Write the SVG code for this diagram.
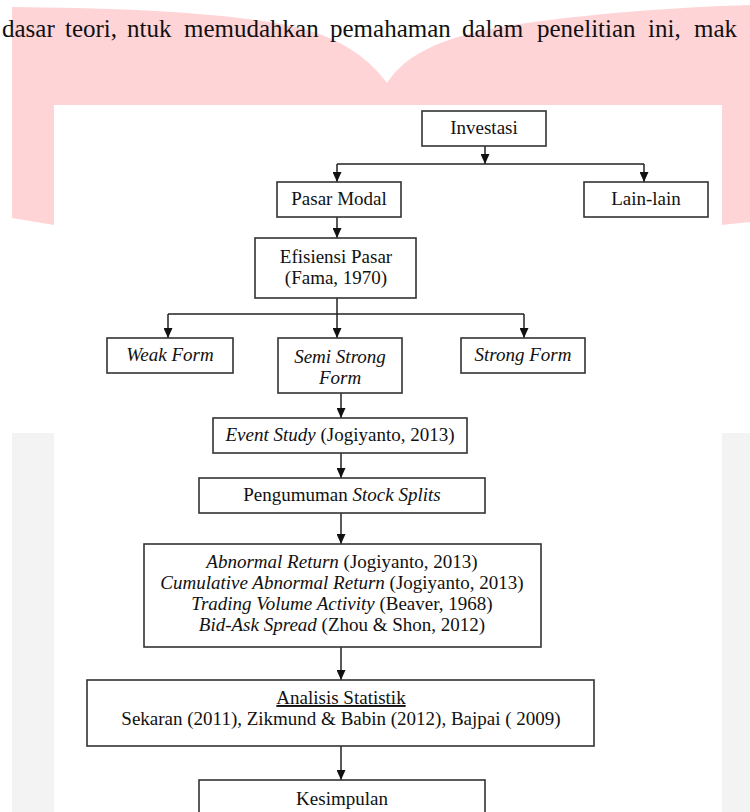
<svg xmlns="http://www.w3.org/2000/svg" width="750" height="812" viewBox="0 0 750 812">
  <style>
    text { font-family: "Liberation Serif", "Times New Roman", serif; fill: #111; }
    .t { font-size: 19px; text-anchor: middle; }
    .i { font-style: italic; }
    .box { fill: #fff; stroke: #333; stroke-width: 1.6; }
    .con { fill: none; stroke: #222; stroke-width: 1.5; }
    .top { font-size: 25px; }
  </style>
  <defs>
    <marker id="ah" viewBox="0 0 10 9" refX="10" refY="4.5" markerWidth="10" markerHeight="9" orient="auto" markerUnits="userSpaceOnUse">
      <path d="M0,0 L10,4.5 L0,9 z" fill="#111"/>
    </marker>
  </defs>

  <!-- background watermark -->
  <rect x="0" y="0" width="750" height="812" fill="#fff"/>
  <path d="M12,7 C120,8 230,12 300,28 C345,40 370,60 387,83 C405,55 440,38 500,27 C580,14 680,7 750,5 L750,222 L721,225 L54,225 L12,218 Z" fill="#ffd4d7"/>
  <rect x="12" y="433" width="42" height="379" fill="#f3f3f3"/>
  <rect x="722" y="433" width="28" height="379" fill="#f3f3f3"/>

  <text class="top" y="37"><tspan x="2">dasar</tspan><tspan x="65">teori,</tspan><tspan x="127">ntuk</tspan><tspan x="184">memudahkan</tspan><tspan x="330">pemahaman</tspan><tspan x="462">dalam</tspan><tspan x="537">penelitian</tspan><tspan x="648">ini,</tspan><tspan x="694">mak</tspan></text>

  <!-- white panel -->
  <rect x="54" y="105" width="668" height="707" fill="#fff"/>

  <g id="connectors">
    <line class="con" x1="485" y1="146" x2="485" y2="164" marker-end="url(#ah)"/>
    <line class="con" x1="337" y1="164" x2="644" y2="164"/>
    <line class="con" x1="337" y1="164" x2="337" y2="182" marker-end="url(#ah)"/>
    <line class="con" x1="644" y1="164" x2="644" y2="182" marker-end="url(#ah)"/>
    <line class="con" x1="337" y1="217" x2="337" y2="238" marker-end="url(#ah)"/>
    <line class="con" x1="337" y1="298" x2="337" y2="314"/>
    <line class="con" x1="168" y1="314" x2="524" y2="314"/>
    <line class="con" x1="168" y1="314" x2="168" y2="338" marker-end="url(#ah)"/>
    <line class="con" x1="337" y1="314" x2="337" y2="338" marker-end="url(#ah)"/>
    <line class="con" x1="524" y1="314" x2="524" y2="338" marker-end="url(#ah)"/>
    <line class="con" x1="341" y1="393" x2="341" y2="418" marker-end="url(#ah)"/>
    <line class="con" x1="341" y1="453" x2="341" y2="478" marker-end="url(#ah)"/>
    <line class="con" x1="341" y1="513" x2="341" y2="544" marker-end="url(#ah)"/>
    <line class="con" x1="341" y1="647" x2="341" y2="680" marker-end="url(#ah)"/>
    <line class="con" x1="341" y1="746" x2="341" y2="780" marker-end="url(#ah)"/>
  </g>

  <g id="investasi">
    <rect class="box" x="422" y="111" width="124" height="35"/>
    <text class="t" x="484" y="134">Investasi</text>
  </g>
  <g id="pasar-modal">
    <rect class="box" x="277" y="182" width="124" height="35"/>
    <text class="t" x="339" y="205">Pasar Modal</text>
  </g>
  <g id="lain-lain">
    <rect class="box" x="584" y="182" width="124" height="35"/>
    <text class="t" x="646" y="205">Lain-lain</text>
  </g>
  <g id="efisiensi-pasar">
    <rect class="box" x="255" y="238" width="161" height="60"/>
    <text class="t" x="336" y="263">Efisiensi Pasar</text>
    <text class="t" x="336" y="284">(Fama, 1970)</text>
  </g>
  <g id="weak-form">
    <rect class="box" x="107" y="338" width="126" height="35"/>
    <text class="t i" x="170" y="361">Weak Form</text>
  </g>
  <g id="semi-strong-form">
    <rect class="box" x="278" y="338" width="124" height="55"/>
    <text class="t i" x="340" y="363">Semi Strong</text>
    <text class="t i" x="340" y="384">Form</text>
  </g>
  <g id="strong-form">
    <rect class="box" x="461" y="338" width="124" height="35"/>
    <text class="t i" x="523" y="361">Strong Form</text>
  </g>
  <g id="event-study">
    <rect class="box" x="213" y="418" width="254" height="35"/>
    <text class="t" x="340" y="441"><tspan class="i">Event Study</tspan> (Jogiyanto, 2013)</text>
  </g>
  <g id="pengumuman">
    <rect class="box" x="199" y="478" width="286" height="35"/>
    <text class="t" x="342" y="501">Pengumuman <tspan class="i">Stock Splits</tspan></text>
  </g>
  <g id="variabel">
    <rect class="box" x="144" y="544" width="397" height="103"/>
    <text class="t" x="342" y="568"><tspan class="i">Abnormal Return</tspan> (Jogiyanto, 2013)</text>
    <text class="t" x="342" y="589"><tspan class="i">Cumulative Abnormal Return</tspan> (Jogiyanto, 2013)</text>
    <text class="t" x="342" y="610"><tspan class="i">Trading Volume Activity</tspan> (Beaver, 1968)</text>
    <text class="t" x="342" y="631"><tspan class="i">Bid-Ask Spread</tspan> (Zhou &amp; Shon, 2012)</text>
  </g>
  <g id="analisis-statistik">
    <rect class="box" x="87" y="680" width="507" height="66"/>
    <text class="t" x="341" y="704" text-decoration="underline">Analisis Statistik</text>
    <text class="t" x="341" y="725">Sekaran (2011), Zikmund &amp; Babin (2012), Bajpai ( 2009)</text>
  </g>
  <g id="kesimpulan">
    <rect class="box" x="199" y="780" width="286" height="50"/>
    <text class="t" x="342" y="805">Kesimpulan</text>
  </g>
</svg>
